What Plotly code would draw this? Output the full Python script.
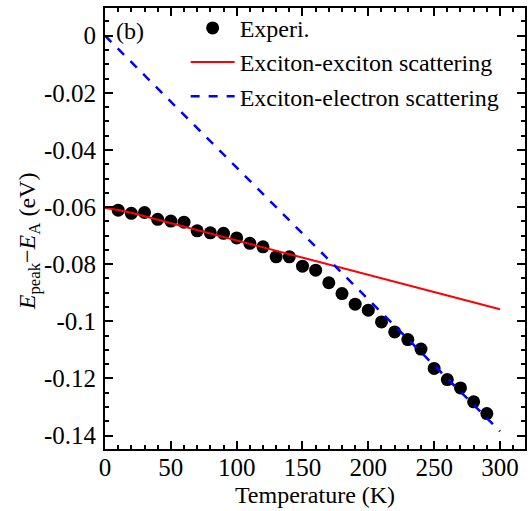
import plotly.graph_objects as go

# Experimental data
temp_exp = [10, 20, 30, 40, 50, 60, 70, 80, 90, 100, 110, 120, 130, 140, 150,
            160, 170, 180, 190, 200, 210, 220, 230, 240, 250, 260, 270, 280, 290]
e_exp = [-0.0611, -0.0622, -0.0619, -0.0643, -0.0649, -0.0653, -0.0683, -0.0690,
         -0.0692, -0.0708, -0.0727, -0.0739, -0.0774, -0.0774, -0.0807, -0.0821,
         -0.0865, -0.0903, -0.0940, -0.0961, -0.1002, -0.1037, -0.1064, -0.1097,
         -0.1165, -0.1204, -0.1233, -0.1282, -0.1323]

# Exciton-exciton scattering curve
temp_xx = [0, 10, 20, 30, 40, 50, 75, 100, 125, 150, 175, 200, 225, 250, 275, 300]
e_xx = [-0.0603, -0.0610, -0.0620, -0.0632, -0.0645, -0.0657, -0.0688, -0.0718,
        -0.0747, -0.0776, -0.0806, -0.0836, -0.0866, -0.0896, -0.0927, -0.0958]

# Exciton-electron scattering line
temp_xe = [0, 300]
e_xe = [0.0, -0.1385]

x_tickvals = [0, 50, 100, 150, 200, 250, 300]
x_ticktext = ["0", "50", "100", "150", "200", "250", "300"]
y_tickvals = [0, -0.02, -0.04, -0.06, -0.08, -0.1, -0.12, -0.14]
y_ticktext = ["0", "-0.02", "-0.04", "-0.06", "-0.08", "-0.1", "-0.12", "-0.14"]

FONT = "Liberation Serif"
FS_XTICK = 25
FS_YTICK = 25
FS_TITLE = 24
FS_LEG = 24

fig = go.Figure()
fig.add_trace(go.Scatter(x=temp_exp, y=e_exp, mode="markers", name="Experi.",
                         marker=dict(color="black", size=13)))
fig.add_trace(go.Scatter(x=temp_xx, y=e_xx, mode="lines", name="Exciton-exciton scattering",
                         line=dict(color="red", width=2)))
fig.add_trace(go.Scatter(x=temp_xe, y=e_xe, mode="lines", name="Exciton-electron scattering",
                         line=dict(color="blue", width=2.5, dash="dash")))

axis_common = dict(showgrid=False, zeroline=False, showline=True, linecolor="black",
                   linewidth=2, mirror="allticks", ticks="inside", ticklen=8,
                   tickwidth=2, tickcolor="black")

fig.update_xaxes(range=[0, 319], tickvals=x_tickvals, ticktext=x_ticktext,
                 ticklabelstandoff=-5,
                 tickfont=dict(family=FONT, size=FS_XTICK, color="black"),
                 minor=dict(ticks="inside", dtick=10, ticklen=4, tickwidth=2, tickcolor="black"),
                 title=dict(text="Temperature (K)",
                            font=dict(family=FONT, size=FS_TITLE, color="black"), standoff=6),
                 **axis_common)
fig.update_yaxes(range=[-0.1447, 0.0097], tickvals=y_tickvals, ticktext=y_ticktext,
                 ticklabelstandoff=2,
                 tickfont=dict(family=FONT, size=FS_YTICK, color="black"),
                 minor=dict(ticks="inside", dtick=0.005, tick0=0, ticklen=4, tickwidth=2,
                            tickcolor="black"),
                 **axis_common)

# y-axis title
fig.add_annotation(text="<i>E</i><sub>peak</sub>\u2212<i>E</i><sub>A</sub> (eV)",
                   xref="paper", yref="paper", x=-0.182, y=0.47, textangle=-90,
                   xanchor="center", yanchor="middle", showarrow=False,
                   font=dict(family=FONT, size=FS_TITLE, color="black"))

fig.add_annotation(text="(b)", xref="paper", yref="paper", x=0.022, y=0.948,
                   xanchor="left", yanchor="middle", showarrow=False,
                   font=dict(family=FONT, size=FS_TITLE, color="black"))

fig.update_layout(
    width=531, height=511,
    margin=dict(l=105, r=4, t=8, b=62),
    plot_bgcolor="white", paper_bgcolor="white",
    font=dict(family=FONT, size=FS_TITLE, color="black"),
    legend=dict(x=0.192, y=1.005, xanchor="left", yanchor="top",
                bgcolor="rgba(0,0,0,0)", font=dict(family=FONT, size=FS_LEG),
                tracegroupgap=0, itemwidth=44),
)

fig.write_html("out.html", config={"displayModeBar": False},
               post_script="document.body.style.margin='0';document.body.style.overflow='hidden';")
